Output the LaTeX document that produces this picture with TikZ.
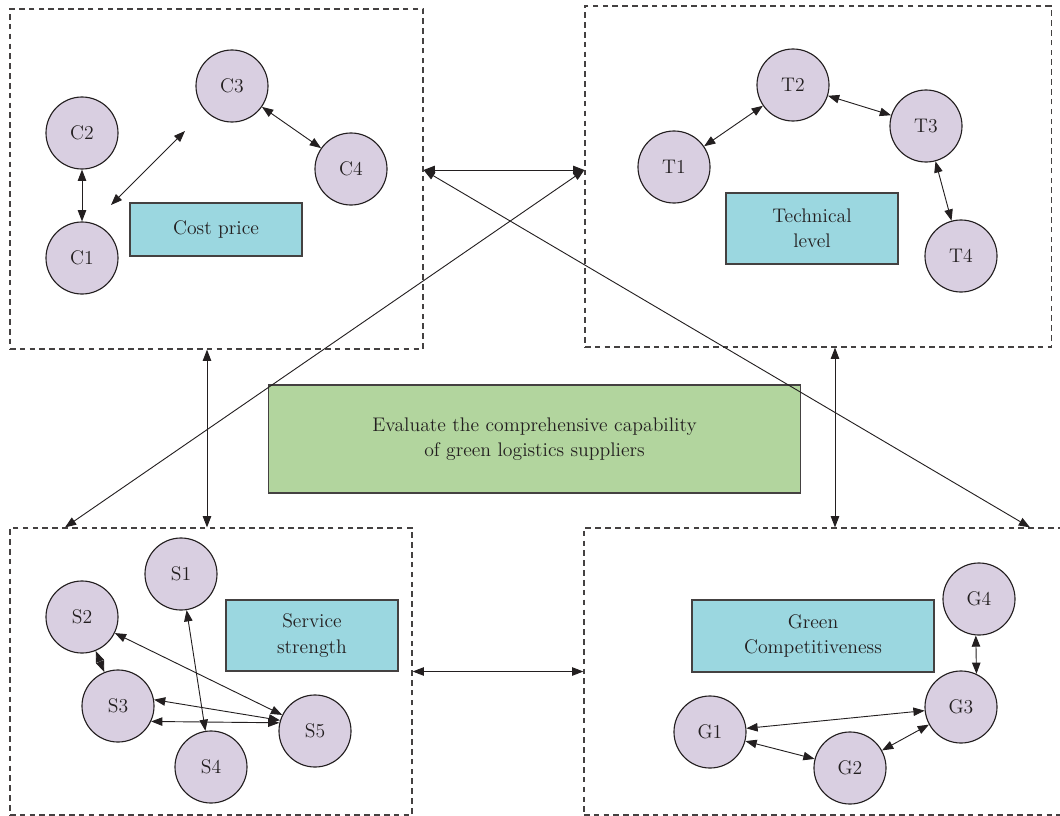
\documentclass[tikz,border=0pt]{standalone}
\usepackage{tikz}
\definecolor{critfill}{HTML}{D9CFE1}
\definecolor{tagfill}{HTML}{9BD7E0}
\definecolor{goalfill}{HTML}{B2D59E}
\definecolor{ink}{HTML}{231F20}
\usetikzlibrary{arrows.meta,positioning}
\tikzstyle{crit}=[draw=ink,circle,fill=critfill,inner sep=0pt,line width=.8pt,
  minimum size=1.8cm,text=ink,font=\fontsize{14}{18}\selectfont]
\tikzstyle{tag}=[draw=ink!85,fill=tagfill,align=center,line width=.8pt,text=ink,
  minimum width=4.3cm,minimum height=1.775cm,font=\fontsize{14}{18}\selectfont]
\tikzstyle{frame}=[draw=ink!85,dash pattern=on 4pt off 3pt,inner sep=0pt,line width=.8pt]
\tikzstyle{link}=[<->, ink, line width=.65pt]

\begin{document}
\begin{tikzpicture}[x=0.025cm, y=-0.025cm, >={Triangle[length=8pt,width=6pt]}]
  \useasboundingbox (0,0) rectangle (1060,816);

  % the four groups
  \node[frame, minimum width=10.325cm, minimum height=8.5cm] (cost) at (216.5,179) {};
  \node[frame, minimum width=11.65cm, minimum height=8.525cm] (tech) at (818,176.5) {};
  \node[frame, minimum width=10.05cm, minimum height=7.175cm] (serv) at (211,671.5) {};
  \node[frame, minimum width=12cm, minimum height=7.175cm] (green) at (824,671.5) {};

  \node[draw=ink!85, fill=goalfill, align=center, line width=.8pt, text=ink,
    minimum width=13.275cm, minimum height=2.7cm,
    font=\fontsize{14}{18}\selectfont] (goal) at (534.5,439)
    {Evaluate the comprehensive capability\\of green logistics suppliers};

  % cost price
  \node[crit] (c2) at (82,133) {C2};
  \node[crit] (c1) at (82,258) {C1};
  \node[crit] (c3) at (232,86) {C3};
  \node[crit] (c4) at (351,169) {C4};
  \node[tag, minimum height=1.325cm] (cp) at (216,229.5) {Cost price};
  \coordinate (ca) at (111,205);
  \coordinate (cb) at (185,131);

  % technical level
  \node[crit] (t1) at (674,167) {T1};
  \node[crit] (t2) at (793,85) {T2};
  \node[crit] (t3) at (926,126) {T3};
  \node[crit] (t4) at (961,256) {T4};
  \node[tag] (tl) at (812,228.5) {Technical\\level};

  % service strength
  \node[crit] (s1) at (181,574) {S1};
  \node[crit] (s2) at (82,617) {S2};
  \node[crit] (s3) at (118,706) {S3};
  \node[crit] (s4) at (211,767) {S4};
  \node[crit] (s5) at (315,731) {S5};
  \node[tag] (ss) at (312,635.5) {Service\\strength};

  % green competitiveness
  \node[crit] (g4) at (979,599) {G4};
  \node[crit] (g3) at (961,707) {G3};
  \node[crit] (g1) at (710,732) {G1};
  \node[crit] (g2) at (850,768) {G2};
  \node[tag, minimum width=6.05cm, minimum height=1.8cm] (gc) at (813,636) {Green\\Competitiveness};

  \draw[link] (c2) -- (c1);
  \draw[link] (c3) -- (c4);
  \draw[link] (ca) -- (cb);

  \draw[link] (t1) -- (t2);
  \draw[link] (t2) -- (t3);
  \draw[link] (t3) -- (t4);

  \draw[link] (s1) -- (s4);
  \draw[link] (s2) -- (s5);
  \draw[link] (s2) -- (s3);
  \draw[link] (s3.10) -- (s5.163);
  \draw[link] (s3.-25) -- (s5.167);

  \draw[link] (g4.265) -- (g3.65.4);
  \draw[link] (g1) -- (g3);
  \draw[link] (g1) -- (g2);
  \draw[link] (g2) -- (g3);

  % between the groups
  \draw[link] (cost.east |- 0,170) -- (tech.west |- 0,170);
  \draw[link] (tech.west |- 0,170) -- (serv.north -| 65,0);
  \draw[link] (cost.east |- 0,170) -- (green.north -| 1030,0);
  \draw[link] (cost.south -| 207,0) -- (serv.north -| 207,0);
  \draw[link] (tech.south -| 835,0) -- (green.north -| 835,0);
  \draw[link] (serv.east) -- (green.west);
\end{tikzpicture}
\end{document}
